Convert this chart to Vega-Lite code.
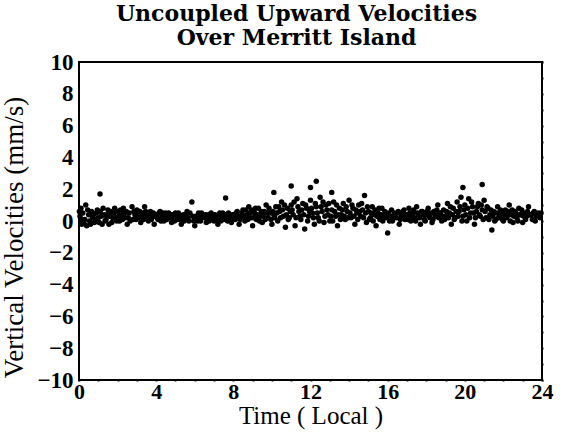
{
"$schema":"https://vega.github.io/schema/vega-lite/v6.json",
"autosize":{"type":"none"},
"padding":{"left":79,"top":62,"right":19,"bottom":53},
"width":463,"height":318,
"background":"white",
"title":{"text":["Uncoupled Upward Velocities","Over Merritt Island"],"font":"DejaVu Serif","fontSize":22,"fontWeight":"bold","lineHeight":24,"offset":1,"color":"black","dx":-14},
"config":{"view":{"stroke":"black","strokeWidth":2}},
"data":{"values":[
{"t":0.05,"v":0.3},{"t":0.1,"v":0.8},{"t":0.15,"v":-0.2},{"t":0.2,"v":0.5},{"t":0.3,"v":0.1},{"t":0.35,"v":1.0},{"t":0.4,"v":-0.3},{"t":0.5,"v":0.4},{"t":0.55,"v":0.0},{"t":0.65,"v":0.6},{"t":0.7,"v":0.2},{"t":0.8,"v":-0.1},{"t":0.9,"v":0.5},
{"t":1.0,"v":0.2},{"t":1.09,"v":1.7},{"t":1.1,"v":0.6},{"t":1.2,"v":-0.2},{"t":1.3,"v":0.4},{"t":1.4,"v":0.1},{"t":1.5,"v":0.7},{"t":1.6,"v":0.3},{"t":1.7,"v":-0.1},{"t":1.8,"v":0.5},{"t":1.9,"v":0.2},
{"t":2.0,"v":0.6},{"t":2.1,"v":0.0},{"t":2.2,"v":0.4},{"t":2.3,"v":0.8},{"t":2.4,"v":0.2},{"t":2.5,"v":-0.2},{"t":2.6,"v":0.5},{"t":2.75,"v":0.9},{"t":2.8,"v":0.1},{"t":2.9,"v":0.4},
{"t":3.0,"v":0.7},{"t":3.1,"v":0.2},{"t":3.2,"v":-0.1},{"t":3.3,"v":0.5},{"t":3.4,"v":0.9},{"t":3.5,"v":0.3},{"t":3.6,"v":0.0},{"t":3.7,"v":0.6},{"t":3.8,"v":0.3},{"t":3.9,"v":-0.2},
{"t":4.0,"v":0.4},{"t":4.1,"v":0.1},{"t":4.2,"v":0.6},{"t":4.3,"v":0.3},{"t":4.4,"v":0.0},{"t":4.5,"v":0.5},{"t":4.6,"v":0.2},{"t":4.7,"v":0.4},{"t":4.8,"v":-0.1},{"t":4.9,"v":0.3},
{"t":5.0,"v":0.5},{"t":5.1,"v":0.1},{"t":5.2,"v":0.3},{"t":5.3,"v":-0.2},{"t":5.4,"v":0.4},{"t":5.5,"v":0.2},{"t":5.6,"v":0.6},{"t":5.7,"v":0.0},{"t":5.85,"v":1.2},{"t":5.9,"v":0.3},
{"t":6.0,"v":-0.3},{"t":6.1,"v":0.2},{"t":6.2,"v":0.5},{"t":6.3,"v":0.0},{"t":6.4,"v":0.3},{"t":6.6,"v":-0.1},{"t":6.7,"v":0.4},{"t":6.8,"v":0.1},{"t":6.9,"v":0.3},
{"t":7.0,"v":0.0},{"t":7.1,"v":0.3},{"t":7.2,"v":-0.2},{"t":7.3,"v":0.5},{"t":7.4,"v":0.2},{"t":7.6,"v":1.45},{"t":7.6,"v":0.4},{"t":7.7,"v":0.0},{"t":7.8,"v":0.3},{"t":7.9,"v":-0.1},
{"t":8.0,"v":0.4},{"t":8.1,"v":0.1},{"t":8.2,"v":0.6},{"t":8.3,"v":-0.2},{"t":8.4,"v":0.3},{"t":8.5,"v":0.7},{"t":8.6,"v":0.0},{"t":8.7,"v":0.4},{"t":8.8,"v":0.9},{"t":8.9,"v":0.2},
{"t":9.0,"v":-0.3},{"t":9.1,"v":0.5},{"t":9.2,"v":0.1},{"t":9.3,"v":0.8},{"t":9.4,"v":0.3},{"t":9.5,"v":-0.1},{"t":9.6,"v":0.6},{"t":9.7,"v":1.0},{"t":9.8,"v":0.2},{"t":9.9,"v":0.5},
{"t":10.0,"v":-0.2},{"t":10.1,"v":1.8},{"t":10.1,"v":0.4},{"t":10.2,"v":0.9},{"t":10.3,"v":0.0},{"t":10.4,"v":0.6},{"t":10.5,"v":1.2},{"t":10.6,"v":0.3},{"t":10.7,"v":-0.4},{"t":10.8,"v":0.8},{"t":10.9,"v":0.2},
{"t":11.0,"v":2.2},{"t":11.0,"v":1.0},{"t":11.1,"v":0.4},{"t":11.2,"v":-0.3},{"t":11.3,"v":1.4},{"t":11.4,"v":0.6},{"t":11.5,"v":0.1},{"t":11.6,"v":1.1},{"t":11.7,"v":-0.5},{"t":11.8,"v":0.8},{"t":11.9,"v":0.3},
{"t":12.0,"v":2.1},{"t":12.0,"v":1.3},{"t":12.1,"v":0.5},{"t":12.2,"v":-0.2},{"t":12.3,"v":2.5},{"t":12.3,"v":0.9},{"t":12.4,"v":0.2},{"t":12.5,"v":1.5},{"t":12.6,"v":0.6},{"t":12.7,"v":-0.1},{"t":12.8,"v":1.0},{"t":12.9,"v":0.4},
{"t":13.0,"v":0.0},{"t":13.1,"v":1.8},{"t":13.1,"v":0.7},{"t":13.2,"v":1.2},{"t":13.3,"v":0.3},{"t":13.4,"v":-0.3},{"t":13.5,"v":0.8},{"t":13.6,"v":0.4},{"t":13.7,"v":1.1},{"t":13.8,"v":0.1},{"t":13.9,"v":0.6},
{"t":14.0,"v":1.3},{"t":14.1,"v":0.2},{"t":14.2,"v":0.8},{"t":14.3,"v":-0.2},{"t":14.4,"v":0.5},{"t":14.5,"v":1.0},{"t":14.6,"v":0.3},{"t":14.7,"v":0.7},{"t":14.8,"v":1.6},{"t":14.9,"v":-0.1},
{"t":15.0,"v":0.6},{"t":15.1,"v":0.2},{"t":15.2,"v":0.9},{"t":15.3,"v":0.4},{"t":15.4,"v":-0.3},{"t":15.5,"v":0.5},{"t":15.6,"v":0.1},{"t":15.7,"v":0.8},{"t":15.8,"v":0.3},{"t":16.0,"v":-0.76},
{"t":16.0,"v":0.4},{"t":16.1,"v":0.0},{"t":16.2,"v":0.7},{"t":16.3,"v":0.2},{"t":16.5,"v":0.5},{"t":16.6,"v":-0.2},{"t":16.7,"v":0.3},{"t":16.8,"v":0.6},{"t":16.9,"v":0.1},
{"t":17.0,"v":0.4},{"t":17.1,"v":0.8},{"t":17.2,"v":0.0},{"t":17.3,"v":0.5},{"t":17.4,"v":0.2},{"t":17.5,"v":0.9},{"t":17.6,"v":0.3},{"t":17.7,"v":-0.2},{"t":17.8,"v":0.6},{"t":17.9,"v":0.1},
{"t":18.0,"v":0.4},{"t":18.1,"v":0.8},{"t":18.2,"v":0.2},{"t":18.3,"v":-0.1},{"t":18.4,"v":0.6},{"t":18.5,"v":0.3},{"t":18.6,"v":1.0},{"t":18.7,"v":0.5},{"t":18.8,"v":0.0},{"t":18.9,"v":0.7},
{"t":19.0,"v":0.3},{"t":19.1,"v":1.1},{"t":19.2,"v":0.5},{"t":19.3,"v":-0.2},{"t":19.4,"v":0.8},{"t":19.5,"v":0.2},{"t":19.6,"v":1.2},{"t":19.7,"v":0.6},{"t":19.8,"v":1.5},{"t":19.9,"v":2.1},{"t":19.9,"v":0.3},
{"t":20.0,"v":1.0},{"t":20.1,"v":0.0},{"t":20.2,"v":1.4},{"t":20.3,"v":0.5},{"t":20.4,"v":0.9},{"t":20.5,"v":-0.2},{"t":20.6,"v":0.6},{"t":20.7,"v":1.1},{"t":20.8,"v":0.3},{"t":20.9,"v":2.3},{"t":20.9,"v":0.7},
{"t":21.0,"v":1.3},{"t":21.1,"v":0.2},{"t":21.2,"v":0.8},{"t":21.3,"v":0.4},{"t":21.4,"v":-0.57},{"t":21.5,"v":0.6},{"t":21.6,"v":0.1},{"t":21.7,"v":0.9},{"t":21.8,"v":0.3},{"t":21.9,"v":0.5},
{"t":22.0,"v":0.0},{"t":22.1,"v":0.7},{"t":22.2,"v":0.3},{"t":22.3,"v":1.0},{"t":22.4,"v":0.4},{"t":22.5,"v":-0.1},{"t":22.6,"v":0.6},{"t":22.7,"v":0.2},{"t":22.8,"v":0.8},{"t":22.9,"v":0.4},
{"t":23.0,"v":-0.1},{"t":23.1,"v":0.5},{"t":23.2,"v":0.3},{"t":23.3,"v":0.9},{"t":23.4,"v":0.4},{"t":23.5,"v":0.1},{"t":23.6,"v":0.6},{"t":23.7,"v":0.3},{"t":23.8,"v":0.5},{"t":23.9,"v":0.2},
{"t":0.02,"v":0.6},{"t":0.12,"v":0.1},{"t":0.25,"v":-0.1},{"t":0.45,"v":0.7},{"t":0.6,"v":-0.2},{"t":0.75,"v":0.4},{"t":0.85,"v":0.1},{"t":0.95,"v":0.7},
{"t":1.05,"v":-0.1},{"t":1.15,"v":0.3},{"t":1.25,"v":0.8},{"t":1.35,"v":0.0},{"t":1.45,"v":0.4},{"t":1.55,"v":-0.2},{"t":1.65,"v":0.6},{"t":1.75,"v":0.2},{"t":1.85,"v":0.8},{"t":1.95,"v":0.0},
{"t":2.05,"v":0.3},{"t":2.15,"v":0.7},{"t":2.25,"v":0.1},{"t":2.35,"v":0.5},{"t":2.45,"v":0.6},{"t":2.55,"v":0.2},{"t":2.65,"v":0.0},{"t":2.85,"v":0.6},{"t":2.95,"v":0.1},
{"t":3.05,"v":0.4},{"t":3.15,"v":0.6},{"t":3.25,"v":0.3},{"t":3.35,"v":0.1},{"t":3.45,"v":0.6},{"t":3.55,"v":0.5},{"t":3.65,"v":0.3},{"t":3.75,"v":0.1},{"t":3.85,"v":0.5},{"t":3.95,"v":0.3},
{"t":4.05,"v":0.2},{"t":4.15,"v":0.5},{"t":4.25,"v":0.0},{"t":4.35,"v":0.5},{"t":4.45,"v":0.3},{"t":4.55,"v":0.1},{"t":4.65,"v":0.5},{"t":4.75,"v":0.2},{"t":4.85,"v":0.4},{"t":4.95,"v":0.0},
{"t":5.05,"v":0.3},{"t":5.15,"v":0.5},{"t":5.25,"v":0.1},{"t":5.35,"v":0.3},{"t":5.45,"v":0.0},{"t":5.55,"v":0.4},{"t":5.65,"v":0.2},{"t":5.75,"v":0.5},{"t":5.95,"v":0.0},
{"t":6.05,"v":0.3},{"t":6.15,"v":0.0},{"t":6.25,"v":0.2},{"t":6.35,"v":0.5},{"t":6.5,"v":0.2},{"t":6.55,"v":0.4},{"t":6.65,"v":0.2},{"t":6.75,"v":0.0},{"t":6.85,"v":0.5},{"t":6.95,"v":0.1},
{"t":7.05,"v":0.4},{"t":7.15,"v":0.1},{"t":7.25,"v":0.3},{"t":7.35,"v":0.0},{"t":7.45,"v":0.5},{"t":7.5,"v":0.1},{"t":7.65,"v":0.2},{"t":7.75,"v":0.5},{"t":7.85,"v":0.1},{"t":7.95,"v":0.4},
{"t":8.05,"v":0.2},{"t":8.15,"v":0.5},{"t":8.25,"v":0.3},{"t":8.35,"v":0.1},{"t":8.45,"v":0.5},{"t":8.55,"v":0.3},{"t":8.65,"v":0.7},{"t":8.75,"v":0.1},{"t":8.85,"v":0.5},{"t":8.95,"v":0.7},
{"t":9.05,"v":0.2},{"t":9.15,"v":0.8},{"t":9.25,"v":0.4},{"t":9.35,"v":0.0},{"t":9.45,"v":0.6},{"t":9.55,"v":0.3},{"t":9.65,"v":0.1},{"t":9.75,"v":0.5},{"t":9.85,"v":0.8},{"t":9.95,"v":0.1},
{"t":10.05,"v":0.6},{"t":10.15,"v":0.2},{"t":10.25,"v":0.5},{"t":10.35,"v":0.9},{"t":10.45,"v":0.2},{"t":10.55,"v":0.7},{"t":10.65,"v":1.0},{"t":10.75,"v":0.4},{"t":10.85,"v":0.1},{"t":10.95,"v":0.6},
{"t":11.05,"v":0.7},{"t":11.15,"v":1.2},{"t":11.25,"v":0.2},{"t":11.35,"v":0.9},{"t":11.45,"v":0.3},{"t":11.55,"v":0.7},{"t":11.65,"v":0.4},{"t":11.75,"v":1.0},{"t":11.85,"v":0.0},{"t":11.95,"v":0.6},
{"t":12.05,"v":0.8},{"t":12.15,"v":0.2},{"t":12.25,"v":1.1},{"t":12.35,"v":0.5},{"t":12.45,"v":0.0},{"t":12.55,"v":0.9},{"t":12.65,"v":1.2},{"t":12.75,"v":0.3},{"t":12.85,"v":0.7},{"t":12.95,"v":1.1},
{"t":13.05,"v":0.3},{"t":13.15,"v":0.0},{"t":13.25,"v":0.6},{"t":13.35,"v":1.0},{"t":13.45,"v":0.4},{"t":13.55,"v":0.1},{"t":13.65,"v":0.7},{"t":13.75,"v":0.3},{"t":13.85,"v":0.9},{"t":13.95,"v":0.2},
{"t":14.05,"v":0.5},{"t":14.15,"v":1.0},{"t":14.25,"v":0.3},{"t":14.35,"v":0.7},{"t":14.45,"v":0.1},{"t":14.55,"v":0.6},{"t":14.65,"v":1.1},{"t":14.75,"v":0.2},{"t":14.85,"v":0.5},{"t":14.95,"v":0.9},
{"t":15.05,"v":0.1},{"t":15.15,"v":0.5},{"t":15.25,"v":0.0},{"t":15.35,"v":0.7},{"t":15.45,"v":0.3},{"t":15.55,"v":0.8},{"t":15.65,"v":0.4},{"t":15.75,"v":0.0},{"t":15.85,"v":0.6},{"t":15.95,"v":0.2},
{"t":16.05,"v":0.5},{"t":16.15,"v":0.3},{"t":16.25,"v":0.0},{"t":16.35,"v":0.5},{"t":16.45,"v":0.2},{"t":16.55,"v":0.6},{"t":16.65,"v":0.1},{"t":16.75,"v":0.4},{"t":16.85,"v":0.7},{"t":16.95,"v":0.3},
{"t":17.05,"v":0.1},{"t":17.15,"v":0.5},{"t":17.25,"v":0.3},{"t":17.35,"v":0.7},{"t":17.45,"v":0.0},{"t":17.55,"v":0.5},{"t":17.65,"v":0.2},{"t":17.75,"v":0.6},{"t":17.85,"v":0.4},{"t":17.95,"v":0.0},
{"t":18.05,"v":0.6},{"t":18.15,"v":0.3},{"t":18.25,"v":0.5},{"t":18.35,"v":0.1},{"t":18.45,"v":0.4},{"t":18.55,"v":0.7},{"t":18.65,"v":0.2},{"t":18.75,"v":0.5},{"t":18.85,"v":0.3},{"t":18.95,"v":0.1},
{"t":19.05,"v":0.6},{"t":19.15,"v":0.2},{"t":19.25,"v":0.9},{"t":19.35,"v":0.4},{"t":19.45,"v":0.1},{"t":19.55,"v":0.6},{"t":19.65,"v":0.3},{"t":19.75,"v":0.9},{"t":19.85,"v":0.0},{"t":19.95,"v":0.7},
{"t":20.05,"v":0.4},{"t":20.15,"v":0.8},{"t":20.25,"v":0.2},{"t":20.35,"v":1.2},{"t":20.45,"v":0.5},{"t":20.55,"v":0.2},{"t":20.65,"v":0.9},{"t":20.75,"v":0.4},{"t":20.85,"v":1.0},{"t":20.95,"v":0.1},
{"t":21.05,"v":0.6},{"t":21.15,"v":0.9},{"t":21.25,"v":0.1},{"t":21.35,"v":0.7},{"t":21.45,"v":0.3},{"t":21.55,"v":0.0},{"t":21.65,"v":0.5},{"t":21.75,"v":0.2},{"t":21.85,"v":0.7},{"t":21.95,"v":0.1},
{"t":22.05,"v":0.4},{"t":22.15,"v":0.2},{"t":22.25,"v":0.6},{"t":22.35,"v":0.0},{"t":22.45,"v":0.7},{"t":22.55,"v":0.3},{"t":22.65,"v":0.5},{"t":22.75,"v":0.0},{"t":22.85,"v":0.4},{"t":22.95,"v":0.7},
{"t":23.05,"v":0.3},{"t":23.15,"v":0.1},{"t":23.25,"v":0.6},{"t":23.35,"v":0.4},{"t":23.45,"v":0.4},{"t":23.55,"v":0.5},{"t":23.65,"v":0.0},{"t":23.75,"v":0.4},{"t":23.85,"v":0.4},{"t":23.95,"v":0.5}
]},
"layer":[
{"mark":{"type":"point","filled":true,"shape":"circle","size":30,"color":"black","opacity":1},
 "encoding":{
  "x":{"field":"t","type":"quantitative","scale":{"domain":[0,24],"nice":false,"zero":false},
   "axis":{"orient":"bottom","title":"Time ( Local )","values":[0,1,2,3,4,5,6,7,8,9,10,11,12,13,14,15,16,17,18,19,20,21,22,23,24],
    "labelExpr":"datum.value % 4 === 0 ? datum.label : ''","labelOverlap":false,"labelFlush":false,"grid":false,"domain":false,
    "tickSize":1,"tickColor":"black","tickWidth":2,"labelPadding":0,
    "labelFont":"Liberation Serif","labelFontSize":22,"labelFontWeight":"bold","labelColor":"black",
    "titleFont":"Liberation Serif","titleFontSize":25,"titleFontWeight":"normal","titleColor":"black","titlePadding":1,
    "encode":{"ticks":{"update":{"y2":{"signal":"datum.value % 4 === 0 ? -8 : -5"}}}}}},
  "y":{"field":"v","type":"quantitative","scale":{"domain":[-10,10],"nice":false,"zero":false},
   "axis":{"orient":"left","title":"Vertical Velocities (mm/s)","values":[-10,-9,-8,-7,-6,-5,-4,-3,-2,-1,0,1,2,3,4,5,6,7,8,9,10],
    "labelExpr":"datum.value % 2 === 0 ? datum.label : ''","labelOverlap":false,"labelFlush":false,"grid":false,"domain":false,
    "tickSize":1,"tickColor":"black","tickWidth":2,"labelPadding":5,
    "labelFont":"Liberation Serif","labelFontSize":23,"labelFontWeight":"bold","labelColor":"black",
    "titleFont":"Liberation Serif","titleFontSize":27,"titleFontWeight":"normal","titleColor":"black","titleY":175,"titleX":-51,
    "encode":{"ticks":{"update":{"x2":{"signal":"datum.value % 2 === 0 ? 8 : 5"}}}}}}
 }},
{"mark":{"type":"point","filled":true,"size":22,"opacity":0},
 "encoding":{
  "x":{"field":"t","type":"quantitative",
   "axis":{"orient":"top","title":null,"values":[0,1,2,3,4,5,6,7,8,9,10,11,12,13,14,15,16,17,18,19,20,21,22,23,24],"labels":false,"grid":false,"domain":false,
    "tickSize":1,"tickColor":"black","tickWidth":2,
    "encode":{"ticks":{"update":{"y2":{"signal":"datum.value % 4 === 0 ? 8 : 5"}}}}}},
  "y":{"field":"v","type":"quantitative",
   "axis":{"orient":"right","title":null,"values":[-10,-9,-8,-7,-6,-5,-4,-3,-2,-1,0,1,2,3,4,5,6,7,8,9,10],"labels":false,"grid":false,"domain":false,
    "tickSize":1,"tickColor":"black","tickWidth":2,
    "encode":{"ticks":{"update":{"x2":{"signal":"datum.value % 2 === 0 ? -8 : -5"}}}}}}
 }}
],
"resolve":{"axis":{"x":"independent","y":"independent"}}
}
